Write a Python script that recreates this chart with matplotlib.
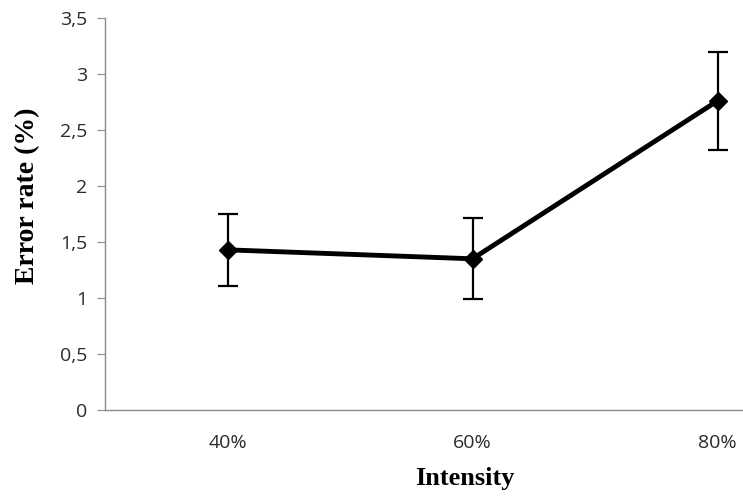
import matplotlib
matplotlib.use("Agg")
import matplotlib.pyplot as plt

categories = ["40%", "60%", "80%"]
error_rate = [1.43, 1.35, 2.76]
error_sd = [0.32, 0.36, 0.44]
y_ticks = [0, 0.5, 1, 1.5, 2, 2.5, 3, 3.5]
y_tick_labels = ["0", "0,5", "1", "1,5", "2", "2,5", "3", "3,5"]

W, H = 743, 501
fig = plt.figure(figsize=(W / 100, H / 100), dpi=100)
# plot area runs past the right edge of the canvas
ax = fig.add_axes([105 / W, 91 / H, 735 / W, 392 / H])

x = list(range(len(categories)))
ax.errorbar(x, error_rate, yerr=error_sd, color="black", lw=3.5, marker="D",
            markersize=9, ecolor="black", elinewidth=1.6, capsize=7,
            capthick=1.6)

ax.set_xlim(-0.5, 2.5)
ax.set_ylim(0, 3.5)
ax.set_xticks(x)
ax.set_xticklabels(categories)
ax.set_yticks(y_ticks)
ax.set_yticklabels(y_tick_labels)

for side in ("top", "right"):
    ax.spines[side].set_visible(False)
for side in ("left", "bottom"):
    ax.spines[side].set_color("#8a8a8a")
    ax.spines[side].set_linewidth(1.0)

ax.tick_params(axis="y", direction="out", length=6, color="#8a8a8a",
               labelsize=14, pad=7, labelcolor="#2b2b2b")
ax.tick_params(axis="x", length=0, labelsize=14, pad=17,
               labelcolor="#2b2b2b")
for lbl in ax.get_xticklabels() + ax.get_yticklabels():
    lbl.set_family("Open Sans")

ax.set_xlabel("Intensity", family="Liberation Serif", fontweight="bold",
              fontsize=19)
ax.set_ylabel("Error rate (%)", family="Liberation Serif", fontweight="bold",
              fontsize=20)
ax.xaxis.set_label_coords((465 - 105) / 735, -(478 - 410) / 392)
ax.yaxis.set_label_coords(-(105 - 28) / 735, (410 - 196) / 392)
ax.xaxis.label.set_va("center")
ax.yaxis.label.set_va("center")

fig.savefig("out.png", dpi=100)
